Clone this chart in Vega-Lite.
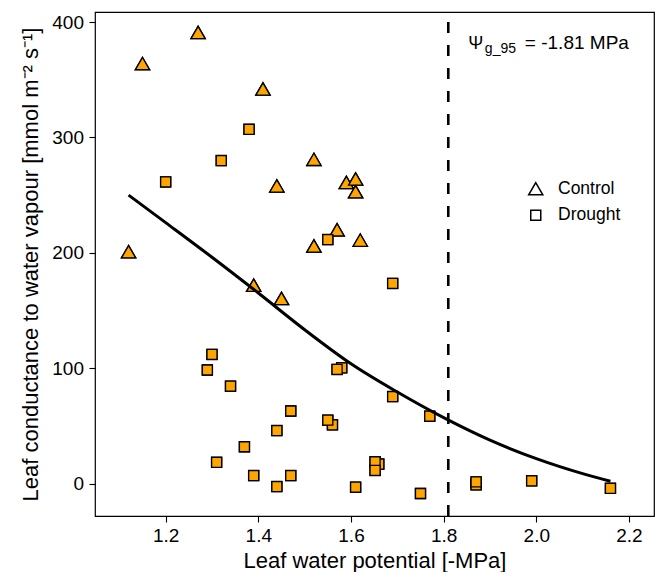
{
  "$schema": "https://vega.github.io/schema/vega-lite/v6.json",
  "width": 559,
  "height": 504,
  "autosize": {"type": "none"},
  "padding": {"left": 95, "top": 12, "right": 4, "bottom": 56},
  "background": "white",
  "config": {
    "font": "Liberation Sans",
    "view": {"stroke": "black", "strokeWidth": 1.2},
    "axis": {
      "domain": false, "grid": false,
      "tickColor": "black", "tickSize": 6, "tickWidth": 1.1,
      "labelColor": "black", "labelFont": "Liberation Sans", "labelFontSize": 19,
      "titleColor": "black", "titleFont": "Liberation Sans", "titleFontSize": 22, "titleFontWeight": "normal"
    }
  },
  "datasets": {
    "points": [
      {"x": 1.12, "y": 201, "group": "Control"},
      {"x": 1.15, "y": 364, "group": "Control"},
      {"x": 1.27, "y": 391, "group": "Control"},
      {"x": 1.41, "y": 342, "group": "Control"},
      {"x": 1.52, "y": 281, "group": "Control"},
      {"x": 1.44, "y": 258, "group": "Control"},
      {"x": 1.52, "y": 206, "group": "Control"},
      {"x": 1.39, "y": 172, "group": "Control"},
      {"x": 1.45, "y": 160.5, "group": "Control"},
      {"x": 1.59, "y": 261, "group": "Control"},
      {"x": 1.61, "y": 264, "group": "Control"},
      {"x": 1.61, "y": 253, "group": "Control"},
      {"x": 1.57, "y": 220, "group": "Control"},
      {"x": 1.62, "y": 211, "group": "Control"},
      {"x": 1.20, "y": 261.5, "group": "Drought"},
      {"x": 1.32, "y": 280, "group": "Drought"},
      {"x": 1.38, "y": 307, "group": "Drought"},
      {"x": 1.55, "y": 211.5, "group": "Drought"},
      {"x": 1.69, "y": 173.5, "group": "Drought"},
      {"x": 1.30, "y": 112, "group": "Drought"},
      {"x": 1.29, "y": 98.5, "group": "Drought"},
      {"x": 1.34, "y": 84.5, "group": "Drought"},
      {"x": 1.47, "y": 63, "group": "Drought"},
      {"x": 1.44, "y": 46, "group": "Drought"},
      {"x": 1.37, "y": 32, "group": "Drought"},
      {"x": 1.31, "y": 18.5, "group": "Drought"},
      {"x": 1.39, "y": 7, "group": "Drought"},
      {"x": 1.47, "y": 7, "group": "Drought"},
      {"x": 1.44, "y": -2.5, "group": "Drought"},
      {"x": 1.56, "y": 51, "group": "Drought"},
      {"x": 1.55, "y": 55, "group": "Drought"},
      {"x": 1.58, "y": 100.4, "group": "Drought"},
      {"x": 1.57, "y": 99, "group": "Drought"},
      {"x": 1.69, "y": 75.5, "group": "Drought"},
      {"x": 1.77, "y": 58.5, "group": "Drought"},
      {"x": 1.66, "y": 17, "group": "Drought"},
      {"x": 1.652, "y": 19, "group": "Drought"},
      {"x": 1.652, "y": 11.5, "group": "Drought"},
      {"x": 1.61, "y": -3, "group": "Drought"},
      {"x": 1.75, "y": -8.5, "group": "Drought"},
      {"x": 1.87, "y": -1, "group": "Drought"},
      {"x": 1.87, "y": 1.5, "group": "Drought"},
      {"x": 1.99, "y": 2.5, "group": "Drought"},
      {"x": 2.16, "y": -4, "group": "Drought"}
    ],
    "fit": [
      {"x": 1.12, "y": 250},
      {"x": 1.2, "y": 226.2},
      {"x": 1.3, "y": 196.2},
      {"x": 1.4, "y": 165.2},
      {"x": 1.5, "y": 133.4},
      {"x": 1.6, "y": 103.9},
      {"x": 1.7, "y": 79.4},
      {"x": 1.8, "y": 57.2},
      {"x": 1.9, "y": 37.7},
      {"x": 2.0, "y": 21.7},
      {"x": 2.1, "y": 8.7},
      {"x": 2.16, "y": 2.1}
    ]
  },
  "layer": [
    {
      "data": {"values": [{}]},
      "mark": {"type": "rule", "color": "black", "strokeWidth": 2.6, "strokeDash": [11, 12]},
      "encoding": {
        "x": {"datum": 1.81, "type": "quantitative"},
        "y": {"datum": -28, "type": "quantitative"},
        "y2": {"datum": 408.7}
      }
    },
    {
      "data": {"name": "points"},
      "mark": {"type": "point", "filled": false, "color": "black", "strokeWidth": 1.5, "opacity": 1},
      "encoding": {
        "x": {
          "field": "x", "type": "quantitative",
          "scale": {"domain": [1.0475, 2.254], "nice": false, "zero": false},
          "axis": {"values": [1.2, 1.4, 1.6, 1.8, 2.0, 2.2], "format": ".1f", "title": "Leaf water potential [-MPa]", "labelPadding": 4.5, "titleY": 51.3, "titleBaseline": "alphabetic"}
        },
        "y": {
          "field": "y", "type": "quantitative",
          "scale": {"domain": [-28, 408.7], "nice": false, "zero": false},
          "axis": {"values": [0, 100, 200, 300, 400], "title": "Leaf conductance to water vapour [mmol m⁻² s⁻¹]", "labelPadding": 5.5, "titleX": -57.5, "titleY": 252, "titleBaseline": "alphabetic", "titleAngle": -90, "titleAlign": "center"}
        },
        "shape": {
          "field": "group", "type": "nominal",
          "scale": {"domain": ["Control", "Drought"], "range": ["triangle-up", "square"]},
          "legend": {"title": null, "orient": "none", "legendX": 432, "legendY": 168, "labelFontSize": 17.5, "labelFont": "Liberation Sans", "labelColor": "black", "labelOffset": 13.5, "rowPadding": 7.5, "padding": 0, "symbolStrokeWidth": 1.5}
        },
        "size": {
          "field": "group", "type": "nominal",
          "scale": {"domain": ["Control", "Drought"], "range": [200, 100]},
          "legend": {"title": null, "orient": "none", "legendX": 432, "legendY": 168, "labelFontSize": 17.5, "labelFont": "Liberation Sans", "labelColor": "black", "labelOffset": 13.5, "rowPadding": 7.5, "padding": 0, "symbolStrokeWidth": 1.5}
        }
      }
    },
    {
      "data": {"name": "points"},
      "mark": {"type": "point", "filled": true, "fill": "#FFA500", "stroke": "black", "strokeWidth": 1.3, "opacity": 1},
      "encoding": {
        "x": {"field": "x", "type": "quantitative"},
        "y": {"field": "y", "type": "quantitative"},
        "shape": {"field": "group", "type": "nominal", "legend": null},
        "size": {"field": "group", "type": "nominal", "legend": null}
      }
    },
    {
      "data": {"name": "fit"},
      "mark": {"type": "line", "color": "black", "strokeWidth": 3, "interpolate": "monotone"},
      "encoding": {
        "x": {"field": "x", "type": "quantitative"},
        "y": {"field": "y", "type": "quantitative"}
      }
    },
    {
      "data": {"values": [{}]},
      "mark": {"type": "text", "text": "Ψ", "align": "left", "baseline": "alphabetic", "fontSize": 18, "font": "Liberation Sans", "color": "black"},
      "encoding": {"x": {"datum": 1.8533, "type": "quantitative"}, "y": {"datum": 377, "type": "quantitative"}}
    },
    {
      "data": {"values": [{}]},
      "mark": {"type": "text", "text": "g_95", "align": "left", "baseline": "alphabetic", "fontSize": 14, "font": "Liberation Sans", "color": "black", "dx": 16.5, "dy": 4.5},
      "encoding": {"x": {"datum": 1.8533, "type": "quantitative"}, "y": {"datum": 377, "type": "quantitative"}}
    },
    {
      "data": {"values": [{}]},
      "mark": {"type": "text", "text": "= -1.81 MPa", "align": "left", "baseline": "alphabetic", "fontSize": 19, "font": "Liberation Sans", "color": "black", "dx": 56.5},
      "encoding": {"x": {"datum": 1.8533, "type": "quantitative"}, "y": {"datum": 377, "type": "quantitative"}}
    }
  ]
}
